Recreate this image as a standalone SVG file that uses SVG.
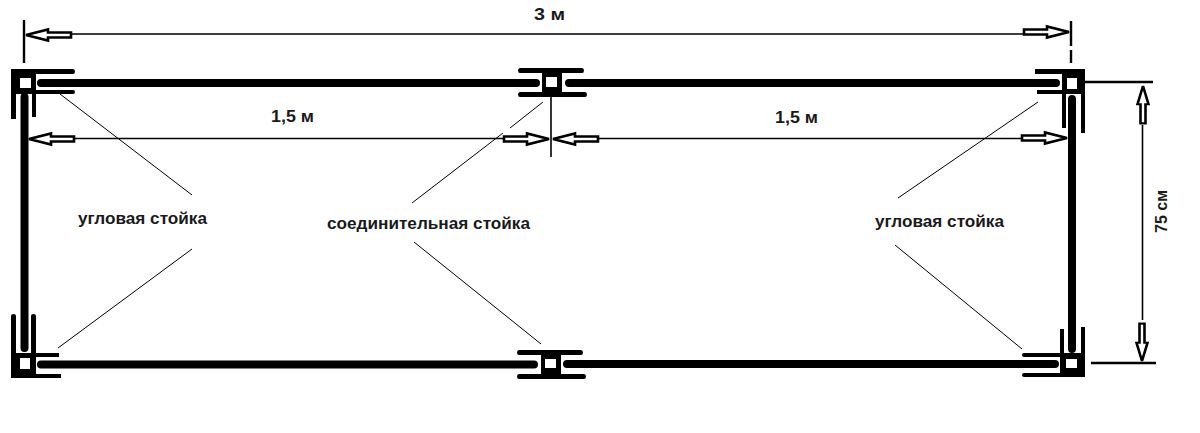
<svg xmlns="http://www.w3.org/2000/svg" width="1200" height="433" viewBox="0 0 1200 433">
<style>
text{font-family:"Liberation Sans",Arial,sans-serif;font-weight:bold;font-size:17px;fill:#1a1a1a}
.bar{stroke:#000;stroke-width:8;fill:none;stroke-linecap:round}
.thin{stroke:#000;stroke-width:1;fill:none}
.dim{stroke:#000;stroke-width:1.6;fill:none}
.tick{stroke:#000;stroke-width:2.4;fill:none}
.post{fill:#000;stroke:none}
.hole{fill:#fff;stroke:none}
.arrow{fill:#fff;stroke:#000;stroke-width:2.6;stroke-linejoin:miter}
</style>
<defs>
<path id="arr" d="M0,0 L-22,-5.500 L-22,-2.500 L-45,-2.500 L-45,2.500 L-22,2.500 L-22,5.500 Z"/>
</defs>
<rect width="1200" height="433" fill="#fff"/>
<g id="connectors">
<path class="bar" d="M41,83H536M569,83H1056"/>
<path class="bar" d="M24.500,97V348M1072,99V349"/>
<path class="bar" d="M41,364.500H534M567,364H1055"/>
<path class="dim" d="M70,34H1026M73,138.500H506M597,138.500H1025"/>
<path class="tick" d="M24,20V63M1071,21V46M1071,50V63M1085,82H1153M1091,363H1156"/>
<path class="dim" d="M551,97V157"/>
<path class="dim" d="M1142.500,125V320"/>
<path class="thin" d="M60,94L192,195M192,249L58,348M543,102L510,128M503,133L412,203M414,242L541,344M1038,102L898,198M895,245L1022,349"/>
<use href="#arr" class="arrow" transform="translate(26,35) scale(-1,1)"/>
<use href="#arr" class="arrow" transform="translate(1069,32)"/>
<use href="#arr" class="arrow" transform="translate(29,139) scale(-1,1)"/>
<use href="#arr" class="arrow" transform="translate(549,139)"/>
<use href="#arr" class="arrow" transform="translate(553,139) scale(-1,1)"/>
<use href="#arr" class="arrow" transform="translate(1067,138)"/>
<use href="#arr" class="arrow" transform="translate(1143,86) rotate(-90) scale(0.83,1)"/>
<use href="#arr" class="arrow" transform="translate(1142,361) rotate(90) scale(0.83,1)"/>
</g>
<g id="post-top-left">
<path class="post" d="M11,69H73Q75,69 75,71.500Q75,74 73,74H36V90H73Q75,90 75,92Q75,94 73,94H36V117H32V94H16V119H11Z"/>
<rect class="hole" x="20" y="78" width="11" height="10"/>
</g>
<g id="post-top-middle">
<path class="post" d="M542,73H520Q518,73 518,70.500Q518,68 520,68H582Q584,68 584,70.500Q584,73 582,73H562V92H585Q587,92 587,94.500Q587,97 585,97H520Q518,97 518,94.500Q518,92 520,92H542Z"/>
<rect class="hole" x="546" y="77" width="11" height="10"/>
</g>
<g id="post-top-right">
<path class="post" d="M1035,69H1085V133H1081V94H1066V128H1062V94H1037V90H1062V74H1035Z"/>
<rect class="hole" x="1067" y="78" width="10" height="11"/>
</g>
<g id="post-bottom-left">
<path class="post" d="M11,316Q11,314 13.500,314Q16,314 16,316V353H31V316Q31,314 33.500,314Q36,314 36,316V353H59V357H36V374H61V378H11Z"/>
<rect class="hole" x="20" y="358" width="10" height="11"/>
</g>
<g id="post-bottom-middle">
<path class="post" d="M541,355H519Q517,355 517,352.500Q517,350 519,350H581Q583,350 583,352.500Q583,355 581,355H561V374H584Q586,374 586,376.500Q586,379 584,379H519Q517,379 517,376.500Q517,374 519,374H541Z"/>
<rect class="hole" x="545" y="359" width="11" height="9"/>
</g>
<g id="post-bottom-right">
<path class="post" d="M1081,327H1085V377H1024Q1022,377 1022,375Q1022,373 1024,373H1060V357H1024Q1022,357 1022,355Q1022,353 1024,353H1060V329H1064V353H1081Z"/>
<rect class="hole" x="1066" y="359" width="11" height="9"/>
</g>
<g id="labels">
<text x="534" y="20" textLength="31" lengthAdjust="spacingAndGlyphs">3 м</text>
<text x="271" y="122" textLength="43" lengthAdjust="spacingAndGlyphs">1,5 м</text>
<text x="775" y="123" textLength="43" lengthAdjust="spacingAndGlyphs">1,5 м</text>
<text x="78" y="223.500" textLength="129" lengthAdjust="spacingAndGlyphs">угловая стойка</text>
<text x="327" y="228.500" textLength="203" lengthAdjust="spacingAndGlyphs">соединительная стойка</text>
<text x="875" y="226.500" textLength="129" lengthAdjust="spacingAndGlyphs">угловая стойка</text>
<text transform="translate(1167,233) rotate(-90)" textLength="43" lengthAdjust="spacingAndGlyphs">75 см</text>
</g>
</svg>
